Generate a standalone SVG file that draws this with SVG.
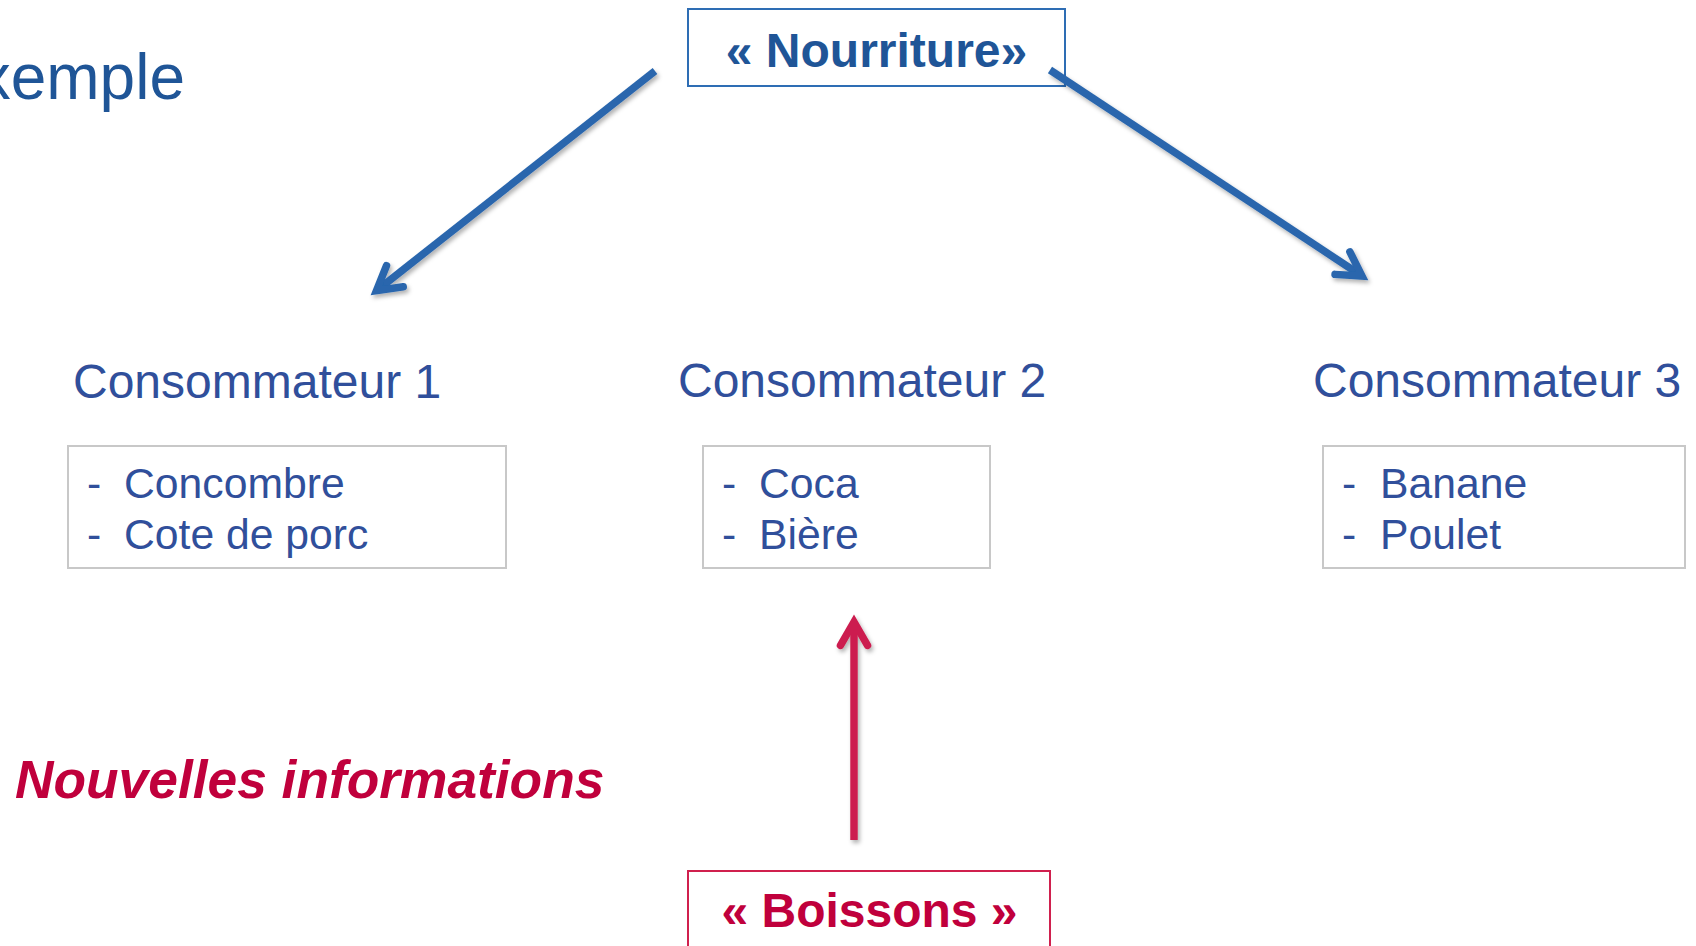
<svg xmlns="http://www.w3.org/2000/svg" width="1696" height="946" viewBox="0 0 1696 946">
  <style>
    text { font-family: "Liberation Sans", Arial, sans-serif; }
    .title { font-size: 64px; fill: #1F5597; }
    .head { font-size: 48px; fill: #304F9B; }
    .item { font-size: 42.7px; fill: #304F9B; }
    .itembox { fill: #FFFFFF; stroke: #C8C8C8; stroke-width: 2; }
    .bluebox { fill: #FFFFFF; stroke: #2E6DB4; stroke-width: 2; }
    .redbox { fill: #FFFFFF; stroke: #D0204E; stroke-width: 2; }
    .bluelabel { font-size: 48px; font-weight: bold; fill: #1F5597; text-anchor: middle; }
    .redlabel { font-size: 48px; font-weight: bold; fill: #C0003C; text-anchor: middle; }
    .note { font-size: 53.3px; font-weight: bold; font-style: italic; fill: #C0003C; }
    .bluearrow { fill: none; stroke: #2966AD; stroke-width: 7.5; marker-end: url(#headBlue); }
    .redarrow { fill: none; stroke: #CC1F4F; stroke-width: 7.5; marker-end: url(#headRed); }
  </style>
  <defs>
    <filter id="shadow" filterUnits="userSpaceOnUse" x="0" y="0" width="1696" height="946">
      <feDropShadow dx="2" dy="3" stdDeviation="2" flood-color="#000000" flood-opacity="0.3"/>
    </filter>
    <marker id="headBlue" markerUnits="userSpaceOnUse" markerWidth="60" markerHeight="60" refX="0" refY="0" orient="auto" overflow="visible">
      <path d="M-23.4,-13.5 L0,0 L-23.4,13.5" fill="none" stroke="#2966AD" stroke-width="7.5" stroke-linejoin="miter" stroke-linecap="round"/>
    </marker>
    <marker id="headRed" markerUnits="userSpaceOnUse" markerWidth="60" markerHeight="60" refX="0" refY="0" orient="auto" overflow="visible">
      <path d="M-23.4,-13.5 L0,0 L-23.4,13.5" fill="none" stroke="#CC1F4F" stroke-width="7.5" stroke-linejoin="miter" stroke-linecap="round"/>
    </marker>
  </defs>

  <rect x="0" y="0" width="1696" height="946" fill="#FFFFFF"/>

  <text class="title" x="-64" y="98.5">Exemple</text>

  <g id="nourriture">
    <rect class="bluebox" x="688" y="9" width="377" height="77"/>
    <text class="bluelabel" x="876.5" y="67">« Nourriture»</text>
  </g>

  <g id="consommateur1">
    <text class="head" x="73" y="398">Consommateur 1</text>
    <rect class="itembox" x="68" y="446" width="438" height="122"/>
    <text class="item" x="87" y="498">-</text>
    <text class="item" x="124" y="498">Concombre</text>
    <text class="item" x="87" y="549">-</text>
    <text class="item" x="124" y="549">Cote de porc</text>
  </g>

  <g id="consommateur2">
    <text class="head" x="678" y="397">Consommateur 2</text>
    <rect class="itembox" x="703" y="446" width="287" height="122"/>
    <text class="item" x="722" y="498">-</text>
    <text class="item" x="759" y="498">Coca</text>
    <text class="item" x="722" y="549">-</text>
    <text class="item" x="759" y="549">Bière</text>
  </g>

  <g id="consommateur3">
    <text class="head" x="1313" y="397">Consommateur 3</text>
    <rect class="itembox" x="1323" y="446" width="362" height="122"/>
    <text class="item" x="1342" y="498">-</text>
    <text class="item" x="1380" y="498">Banane</text>
    <text class="item" x="1342" y="549">-</text>
    <text class="item" x="1380" y="549">Poulet</text>
  </g>

  <g id="nouvelles">
    <text class="note" x="15" y="798">Nouvelles informations</text>
  </g>

  <g id="boissons">
    <rect class="redbox" x="688" y="871" width="362" height="100"/>
    <text class="redlabel" x="869.5" y="927">« Boissons »</text>
  </g>

  <g id="connectors" filter="url(#shadow)">
    <line class="bluearrow" x1="655" y1="71" x2="376.5" y2="290.7"/>
    <line class="bluearrow" x1="1050" y1="70" x2="1362" y2="276"/>
    <line class="redarrow" x1="854" y1="840" x2="854" y2="622"/>
  </g>
</svg>
